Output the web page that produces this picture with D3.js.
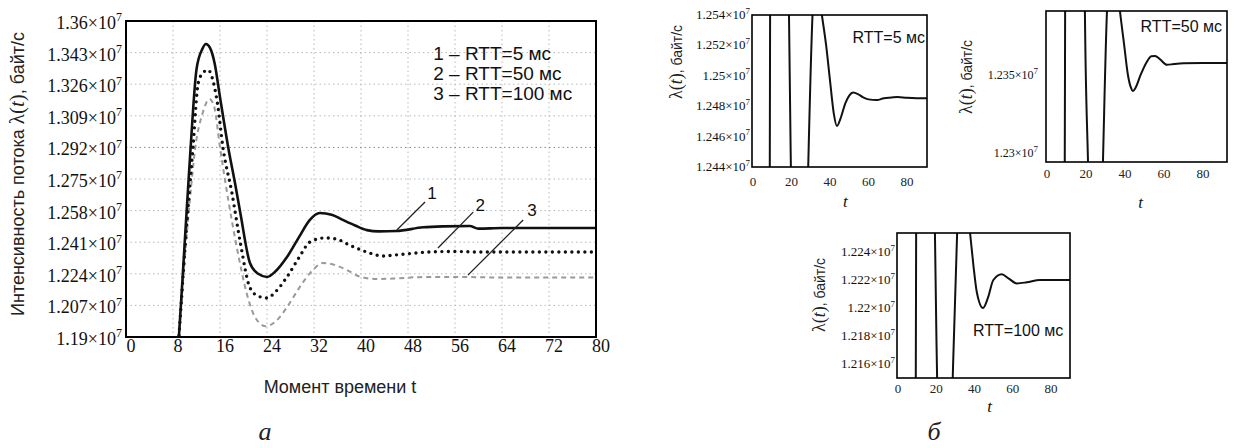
<!DOCTYPE html>
<html><head><meta charset="utf-8">
<script src="https://cdn.jsdelivr.net/npm/d3@7"></script>
<style>body{margin:0;background:#fff}svg{display:block}</style>
</head><body>
<svg id="c" width="1234" height="448"></svg>
<script>
// ---------- DATA ----------
const mainXTicks = [0, 8, 16, 24, 32, 40, 48, 56, 64, 72, 80];
const mainYTicks = [1.19, 1.207, 1.224, 1.241, 1.258, 1.275, 1.292, 1.309, 1.326, 1.343, 1.36];
const legendLabels = ["1 – RTT=5 мс", "2 – RTT=50 мс", "3 – RTT=100 мс"];
const seriesNames = ["1", "2", "3"];

// main chart, values in units of 10^7 bytes/s
const mainT1 = [8.5, 9, 10, 11, 12, 13, 13.6, 14.3, 15.1, 16, 17.4, 18.6, 19.5, 21.1, 22.5, 24, 25.5, 27.4, 29.5, 31.3, 33, 35, 36.9, 39, 41, 43, 46, 50.6, 54, 58.5, 60, 64, 70, 80];
const mainV1 = [1.170, 1.190, 1.241, 1.292, 1.334, 1.345, 1.3476, 1.3455, 1.337, 1.319, 1.292, 1.272, 1.256, 1.2298, 1.2240, 1.2223, 1.2255, 1.2330, 1.2440, 1.2530, 1.2567, 1.2558, 1.2530, 1.2500, 1.2475, 1.2468, 1.2470, 1.2490, 1.2495, 1.2497, 1.2483, 1.2486, 1.2486, 1.2486];
const mainT2 = [8.5, 9, 10, 11.4, 12.3, 13.2, 14.0, 14.8, 15.6, 16.5, 18, 19.5, 21.1, 22.5, 24, 25.5, 27.4, 29.5, 31.3, 33.9, 36, 38, 41, 43.7, 47, 52, 56, 60, 70, 80];
const mainV2 = [1.170, 1.190, 1.236, 1.292, 1.3267, 1.3325, 1.3336, 1.328, 1.315, 1.292, 1.268, 1.240, 1.2165, 1.2120, 1.2110, 1.2145, 1.2223, 1.2330, 1.2411, 1.2433, 1.2425, 1.2395, 1.2357, 1.2336, 1.2345, 1.2358, 1.2360, 1.2357, 1.2357, 1.2357];
const mainT3 = [8.5, 9, 10, 11, 11.8, 13, 14.2, 15, 16, 17.5, 19, 20.5, 22, 23.8, 25.5, 27.4, 29.6, 31.8, 33.5, 35.5, 37.5, 39.8, 42.7, 46, 50, 57, 64, 72, 80];
const mainV3 = [1.170, 1.190, 1.232, 1.268, 1.292, 1.310, 1.318, 1.314, 1.292, 1.262, 1.236, 1.214, 1.2005, 1.1958, 1.1985, 1.2060, 1.2170, 1.2260, 1.2298, 1.2288, 1.2262, 1.2225, 1.2212, 1.2215, 1.2222, 1.2223, 1.2220, 1.2220, 1.2220];

// annotation leader lines (t, value): start, end, label position
const annT = [[46.1, 50.9, 52.1], [53.1, 59.1, 60.3], [58.2, 67.6, 69.1]];
const annV = [[1.2476, 1.2626, 1.2675], [1.2379, 1.2572, 1.2610], [1.2233, 1.2529, 1.2583]];

// detail panels (б)
const panelXTicks = [0, 20, 40, 60, 80];
const p1YTicks = [1.244, 1.246, 1.248, 1.25, 1.252, 1.254];
const p2YTicks = [1.23, 1.235];
const p3YTicks = [1.216, 1.218, 1.22, 1.222, 1.224];
const panelLabels = ["RTT=5 мс", "RTT=50 мс", "RTT=100 мс"];

const p1T = [8.0, 8.7, 8.9, 10, 13, 16.5, 18.6, 19.8, 22, 26, 28.5, 31.3, 33, 35.8, 38, 40, 42, 43.6, 45.5, 48, 50, 52, 54.5, 57, 60, 64.4, 68, 72, 75, 80, 85, 90.4];
const p1V = [1.230, 1.243, 1.255, 1.280, 1.340, 1.300, 1.255, 1.243, 1.228, 1.227, 1.243, 1.255, 1.2567, 1.2540, 1.2520, 1.2497, 1.2475, 1.2467, 1.2472, 1.2482, 1.2487, 1.2489, 1.2488, 1.2486, 1.24845, 1.2484, 1.24853, 1.24857, 1.2486, 1.24855, 1.24853, 1.24853];
const p2T = [8.0, 9.1, 9.3, 10.5, 13, 17, 19.4, 21.1, 24, 26, 28.6, 30.9, 34, 37.4, 39.5, 41.5, 43, 44.1, 45.5, 48, 51, 53.5, 55.4, 58, 61.5, 65, 70, 80, 92.3];
const p2V = [1.215, 1.2290, 1.2395, 1.270, 1.330, 1.290, 1.2395, 1.2290, 1.212, 1.216, 1.2290, 1.2395, 1.2433, 1.2391, 1.2370, 1.2350, 1.2342, 1.23397, 1.2342, 1.2350, 1.2358, 1.2362, 1.23622, 1.2360, 1.23565, 1.2357, 1.23575, 1.23577, 1.23577];
const p3T = [8.0, 9.3, 9.5, 10.5, 13, 17, 19.3, 20.5, 23, 26, 28.6, 31.0, 33.5, 37.7, 39.5, 41.2, 44.5, 47, 49.9, 54.3, 57.8, 62.2, 67.4, 74.3, 80, 90];
const p3V = [1.200, 1.2148, 1.2256, 1.250, 1.310, 1.280, 1.2256, 1.2148, 1.196, 1.200, 1.2148, 1.2256, 1.2298, 1.22536, 1.2230, 1.22116, 1.2200, 1.2207, 1.2220, 1.22241, 1.22212, 1.22176, 1.22184, 1.2220, 1.2220, 1.2220];

// ---------- DRAWING ----------
const svg = d3.select("#c");
const SERIF = "'Liberation Serif','Times New Roman',serif";
const SANS = "'Liberation Sans',Arial,sans-serif";

const x = d3.scaleLinear().domain([0, 80]).range([126, 596]);
const y = d3.scaleLinear().domain([1.19, 1.36]).range([337, 21]);

svg.append("clipPath").attr("id", "mainClip").append("rect")
  .attr("x", 126).attr("y", 21).attr("width", 470).attr("height", 316);

// grid
const grid = svg.append("g");
grid.selectAll("line.gx").data(mainXTicks.slice(1, -1)).join("line")
  .attr("x1", d => x(d)).attr("x2", d => x(d)).attr("y1", y(1.36)).attr("y2", y(1.19))
  .attr("stroke", "#b8b8b8").attr("stroke-width", 1).attr("stroke-dasharray", "1.5,3");
grid.selectAll("line.gy").data(mainYTicks.slice(1, -1)).join("line")
  .attr("y1", d => y(d)).attr("y2", d => y(d)).attr("x1", x(0)).attr("x2", x(80))
  .attr("stroke", d => d === 1.292 ? "#888" : "#b8b8b8").attr("stroke-width", 1).attr("stroke-dasharray", "1.5,3");

// curves
const line = d3.line().x(d => x(d[0])).y(d => y(d[1])).curve(d3.curveMonotoneX);
const zip = (a, b) => a.map((t, i) => [t, b[i]]);
const cg = svg.append("g").attr("clip-path", "url(#mainClip)");
cg.append("path").attr("d", line(zip(mainT3, mainV3))).attr("fill", "none")
  .attr("stroke", "#9a9a9a").attr("stroke-width", 2).attr("stroke-dasharray", "5,4");
cg.append("path").attr("d", line(zip(mainT2, mainV2))).attr("fill", "none")
  .attr("stroke", "#111").attr("stroke-width", 3.4).attr("stroke-linecap", "round").attr("stroke-dasharray", "0,6.5");
cg.append("path").attr("d", line(zip(mainT1, mainV1))).attr("fill", "none")
  .attr("stroke", "#111").attr("stroke-width", 2.6);

// frame
svg.append("rect").attr("x", 126).attr("y", 21).attr("width", 470).attr("height", 316)
  .attr("fill", "none").attr("stroke", "#000").attr("stroke-width", 2);

// y tick labels
function sciLabel(g, v, px, py, size, supSize) {
  const t = g.append("text").attr("x", px).attr("y", py).attr("text-anchor", "end")
    .attr("font-family", SERIF).attr("font-size", size).attr("fill", "#111");
  t.append("tspan").text(String(v) + "×10");
  t.append("tspan").attr("dy", -size * 0.42).attr("font-size", supSize).text("7");
}
const yl = svg.append("g");
mainYTicks.forEach(v => sciLabel(yl, v, 122, y(v) + 8, 18, 12));

// x tick labels
svg.append("g").selectAll("text").data(mainXTicks).join("text")
  .attr("x", d => x(d) + 5).attr("y", 352).attr("text-anchor", "middle")
  .attr("font-family", SERIF).attr("font-size", 18).attr("fill", "#111").text(d => d);

// axis titles
svg.append("text").attr("x", 340).attr("y", 393).attr("text-anchor", "middle")
  .attr("font-family", SANS).attr("font-size", 18).attr("fill", "#222").text("Момент времени t");
const yt = svg.append("text").attr("transform", "translate(24,174) rotate(-90)")
  .attr("text-anchor", "middle").attr("font-family", SANS).attr("font-size", 18).attr("fill", "#222");
yt.append("tspan").text("Интенсивность потока  ");
yt.append("tspan").attr("font-family", SERIF).attr("font-size", 21).text("λ(");
yt.append("tspan").attr("font-family", SERIF).attr("font-size", 21).attr("font-style", "italic").text("t");
yt.append("tspan").attr("font-family", SERIF).attr("font-size", 21).text(")");
yt.append("tspan").text(", байт/с");

// legend
legendLabels.forEach((s, i) => {
  svg.append("text").attr("x", x(52.3)).attr("y", 60 + i * 20)
    .attr("font-family", SANS).attr("font-size", 19).attr("fill", "#111").text(s);
});

// annotations
seriesNames.forEach((n, i) => {
  svg.append("line").attr("x1", x(annT[i][0])).attr("y1", y(annV[i][0]))
    .attr("x2", x(annT[i][1])).attr("y2", y(annV[i][1])).attr("stroke", "#222").attr("stroke-width", 1.3);
  svg.append("text").attr("x", x(annT[i][2])).attr("y", y(annV[i][2]) + 6).attr("text-anchor", "middle")
    .attr("font-family", SANS).attr("font-size", 17).attr("fill", "#111").text(n);
});

// ---------- PANELS ----------
const panelCfg = [
  {T: p1T, V: p1V, ticks: p1YTicks, lab: panelLabels[0], fx0: 752, fx1: 927, fy0: 15, fy1: 167, xr0: 753, xMax: 90.4, yMin: 1.244, yMax: 1.254,
   ylx: 750, ylSize: 13, xlBase: 186, tBase: 207, labX: 925, labY: 43, labAnchor: "end", titleX: 682, titleY: 62},
  {T: p2T, V: p2V, ticks: p2YTicks, lab: panelLabels[1], fx0: 1046, fx1: 1227, fy0: 11, fy1: 162, xr0: 1047, xMax: 92.3, yMin: 1.22942, yMax: 1.2391,
   ylx: 1038, ylSize: 12, xlBase: 178, tBase: 208, labX: 1222, labY: 32, labAnchor: "end", titleX: 972, titleY: 77},
  {T: p3T, V: p3V, ticks: p3YTicks, lab: panelLabels[2], fx0: 897, fx1: 1070, fy0: 233, fy1: 378, xr0: 898, xMax: 90, yMin: 1.215, yMax: 1.22536,
   ylx: 895, ylSize: 13, xlBase: 393, tBase: 412, labX: 973, labY: 336, labAnchor: "start", titleX: 825, titleY: 295}
];

panelCfg.forEach((p, k) => {
  const px = d3.scaleLinear().domain([0, p.xMax]).range([p.xr0, p.fx1]);
  const py = d3.scaleLinear().domain([p.yMin, p.yMax]).range([p.fy1, p.fy0]);
  const g = svg.append("g");
  const id = "pc" + k;
  g.append("clipPath").attr("id", id).append("rect")
    .attr("x", p.fx0).attr("y", p.fy0).attr("width", p.fx1 - p.fx0).attr("height", p.fy1 - p.fy0);
  const pl = d3.line().x(d => px(d[0])).y(d => py(d[1])).curve(d3.curveMonotoneX);
  g.append("path").attr("clip-path", `url(#${id})`).attr("d", pl(zip(p.T, p.V)))
    .attr("fill", "none").attr("stroke", "#111").attr("stroke-width", 2);
  g.append("rect").attr("x", p.fx0).attr("y", p.fy0).attr("width", p.fx1 - p.fx0).attr("height", p.fy1 - p.fy0)
    .attr("fill", "none").attr("stroke", "#000").attr("stroke-width", 1.6);
  p.ticks.forEach(v => sciLabel(g, v, p.ylx, py(v) + 4, p.ylSize, 9));
  g.selectAll("text.xl").data(panelXTicks).join("text")
    .attr("x", d => px(d)).attr("y", p.xlBase).attr("text-anchor", "middle")
    .attr("font-family", SERIF).attr("font-size", 13).attr("fill", "#222").text(d => d);
  g.append("text").attr("x", px(48)).attr("y", p.tBase).attr("text-anchor", "middle")
    .attr("font-family", SERIF).attr("font-style", "italic").attr("font-size", 17).attr("fill", "#111").text("t");
  g.append("text").attr("x", p.labX).attr("y", p.labY).attr("text-anchor", p.labAnchor)
    .attr("font-family", SANS).attr("font-size", 16).attr("fill", "#111").text(p.lab);
  const tt = g.append("text").attr("transform", `translate(${p.titleX},${p.titleY}) rotate(-90)`)
    .attr("text-anchor", "middle").attr("font-family", SANS).attr("font-size", 14).attr("fill", "#222");
  tt.append("tspan").attr("font-family", SERIF).attr("font-size", 18).text("λ(");
  tt.append("tspan").attr("font-family", SERIF).attr("font-size", 18).attr("font-style", "italic").text("t");
  tt.append("tspan").attr("font-family", SERIF).attr("font-size", 18).text(")");
  tt.append("tspan").text(", байт/с");
});

// captions
svg.append("text").attr("x", 265).attr("y", 440).attr("text-anchor", "middle")
  .attr("font-family", SERIF).attr("font-style", "italic").attr("font-size", 26).attr("fill", "#222").text("а");
svg.append("text").attr("x", 934).attr("y", 440).attr("text-anchor", "middle")
  .attr("font-family", SERIF).attr("font-style", "italic").attr("font-size", 26).attr("fill", "#222").text("б");
</script>
</body></html>
